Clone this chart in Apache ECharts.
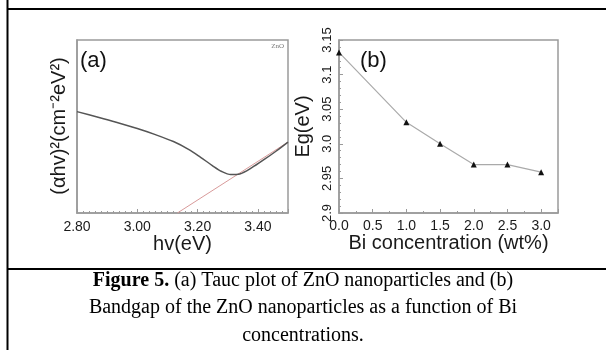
<!DOCTYPE html>
<html>
<head>
<meta charset="utf-8">
<script src="https://cdn.jsdelivr.net/npm/echarts@6/dist/echarts.min.js"></script>
<style>
  html, body { margin: 0; padding: 0; background: #fff; }
  #chart { width: 606px; height: 350px; }
</style>
</head>
<body>
<div id="chart"></div>
<script>
// (a) Tauc plot
const hv = [2.80, 2.87, 2.93, 3.00, 3.06, 3.12, 3.17, 3.21, 3.25, 3.28, 3.31, 3.34, 3.38, 3.42, 3.46, 3.50];
const ahv2 = [58.6, 55.4, 52.5, 48.8, 45.3, 41.3, 36.8, 32.2, 27.3, 24.0, 22.2, 22.6, 26.2, 30.8, 35.7, 41.0];
const tangentX = [3.133, 3.50];
const tangentY = [0, 41.0];
// (b) band gap vs Bi content
const biConc = [0.0, 1.0, 1.5, 2.0, 2.5, 3.0];
const bandgap = [3.132, 3.031, 3.000, 2.970, 2.970, 2.959];

const axisGray = '#9a9a9a';
const labelColor = '#1a1a1a';
const sans = 'Liberation Sans, Arial, sans-serif';
const serif = 'Liberation Serif, Times New Roman, serif';

const zip = (a, b) => a.map((v, i) => [v, b[i]]);

const myChart = echarts.init(document.getElementById('chart'));
const option = {
  backgroundColor: '#fff',
  animation: false,
  grid: [
    { left: 77, top: 40, width: 211, height: 173, show: true, borderColor: axisGray, borderWidth: 1.5 },
    { left: 339, top: 40, width: 219, height: 173, show: true, borderColor: axisGray, borderWidth: 1.5 }
  ],
  xAxis: [
    {
      gridIndex: 0, type: 'value', min: 2.8, max: 3.5, interval: 0.2,
      name: 'hv(eV)', nameLocation: 'middle', nameGap: 20,
      nameTextStyle: { fontFamily: sans, fontSize: 20, color: labelColor },
      axisLine: { show: true, lineStyle: { color: axisGray, width: 1.5 } },
      axisTick: { show: true, inside: true, length: 4, lineStyle: { color: axisGray } },
      minorTick: { show: true, splitNumber: 10, length: 2, lineStyle: { color: axisGray } },
      splitLine: { show: false },
      axisLabel: {
        fontFamily: sans, fontSize: 14, color: labelColor, margin: 7,
        formatter: v => (v < 3.45 ? v.toFixed(2) : '')
      }
    },
    {
      gridIndex: 1, type: 'value', min: 0, max: 3.25, interval: 0.5,
      name: 'Bi concentration (wt%)', nameLocation: 'middle', nameGap: 20,
      nameTextStyle: { fontFamily: sans, fontSize: 20, color: labelColor },
      axisLine: { show: true, lineStyle: { color: axisGray, width: 1.5 } },
      axisTick: { show: true, inside: true, length: 4, lineStyle: { color: axisGray } },
      minorTick: { show: true, splitNumber: 2, length: 2, lineStyle: { color: axisGray } },
      splitLine: { show: false },
      axisLabel: {
        fontFamily: sans, fontSize: 14, color: labelColor, margin: 6,
        formatter: v => (v < 3.1 ? v.toFixed(1) : '')
      }
    }
  ],
  yAxis: [
    {
      gridIndex: 0, type: 'value', min: 0, max: 100,
      axisLine: { show: true, lineStyle: { color: axisGray, width: 1.5 } },
      axisTick: { show: false },
      axisLabel: { show: false },
      splitLine: { show: false }
    },
    {
      gridIndex: 1, type: 'value', min: 2.9, max: 3.15, interval: 0.05,
      name: 'Eg(eV)', nameLocation: 'middle', nameGap: 26,
      nameTextStyle: { fontFamily: sans, fontSize: 20, color: labelColor },
      axisLine: { show: true, lineStyle: { color: axisGray, width: 1.5 } },
      axisTick: { show: true, inside: true, length: 4, lineStyle: { color: axisGray } },
      minorTick: { show: true, splitNumber: 5, length: 2, lineStyle: { color: axisGray } },
      splitLine: { show: false },
      axisLabel: {
        fontFamily: sans, fontSize: 13, color: labelColor, margin: 5, rotate: 90,
        formatter: v => {
          let s = v.toFixed(2);
          if (s.endsWith('0')) s = s.slice(0, -1);
          return s;
        }
      }
    }
  ],
  series: [
    {
      type: 'line', xAxisIndex: 0, yAxisIndex: 0,
      data: zip(tangentX, tangentY),
      showSymbol: false, silent: true,
      lineStyle: { color: '#d89a9a', width: 1 }
    },
    {
      type: 'line', xAxisIndex: 0, yAxisIndex: 0,
      data: zip(hv, ahv2), smooth: 0.3,
      showSymbol: false, silent: true,
      lineStyle: { color: '#555', width: 1.5 }
    },
    {
      type: 'line', xAxisIndex: 1, yAxisIndex: 1,
      data: zip(biConc, bandgap),
      symbol: 'triangle', symbolSize: 6,
      itemStyle: { color: '#111' },
      lineStyle: { color: '#aaa', width: 1.2 }
    }
  ],
  graphic: [
    { type: 'line', shape: { x1: 7.5, y1: 0, x2: 7.5, y2: 350 }, style: { stroke: '#000', lineWidth: 2 } },
    { type: 'line', shape: { x1: 7, y1: 9, x2: 606, y2: 9 }, style: { stroke: '#000', lineWidth: 2 } },
    { type: 'line', shape: { x1: 7, y1: 269, x2: 606, y2: 269 }, style: { stroke: '#000', lineWidth: 2 } },
    {
      type: 'text', x: 59, y: 126, rotation: Math.PI / 2,
      style: { text: '(αhv)²(cm⁻²eV²)', font: '20px ' + sans, fill: labelColor, align: 'center', verticalAlign: 'middle' }
    },
    { type: 'text', left: 80, top: 50, style: { text: '(a)', font: '22px ' + sans, fill: '#111' } },
    { type: 'text', left: 360, top: 50, style: { text: '(b)', font: '22px ' + sans, fill: '#111' } },
    { type: 'text', right: 322, top: 43, style: { text: 'ZnO', font: '7px ' + serif, fill: '#777' } },
    {
      type: 'text', x: 303, y: 281,
      style: {
        text: '{b|Figure 5.} (a) Tauc plot of ZnO nanoparticles and (b)',
        font: '20px ' + serif, fill: '#000', align: 'center', verticalAlign: 'middle',
        rich: { b: { fontWeight: 'bold', fontFamily: serif, fontSize: 20 } }
      }
    },
    {
      type: 'text', x: 303, y: 308,
      style: { text: 'Bandgap of the ZnO nanoparticles as a function of Bi', font: '20px ' + serif, fill: '#000', align: 'center', verticalAlign: 'middle' }
    },
    {
      type: 'text', x: 303, y: 336,
      style: { text: 'concentrations.', font: '20px ' + serif, fill: '#000', align: 'center', verticalAlign: 'middle' }
    }
  ]
};
option && myChart.setOption(option);
</script>
</body>
</html>
